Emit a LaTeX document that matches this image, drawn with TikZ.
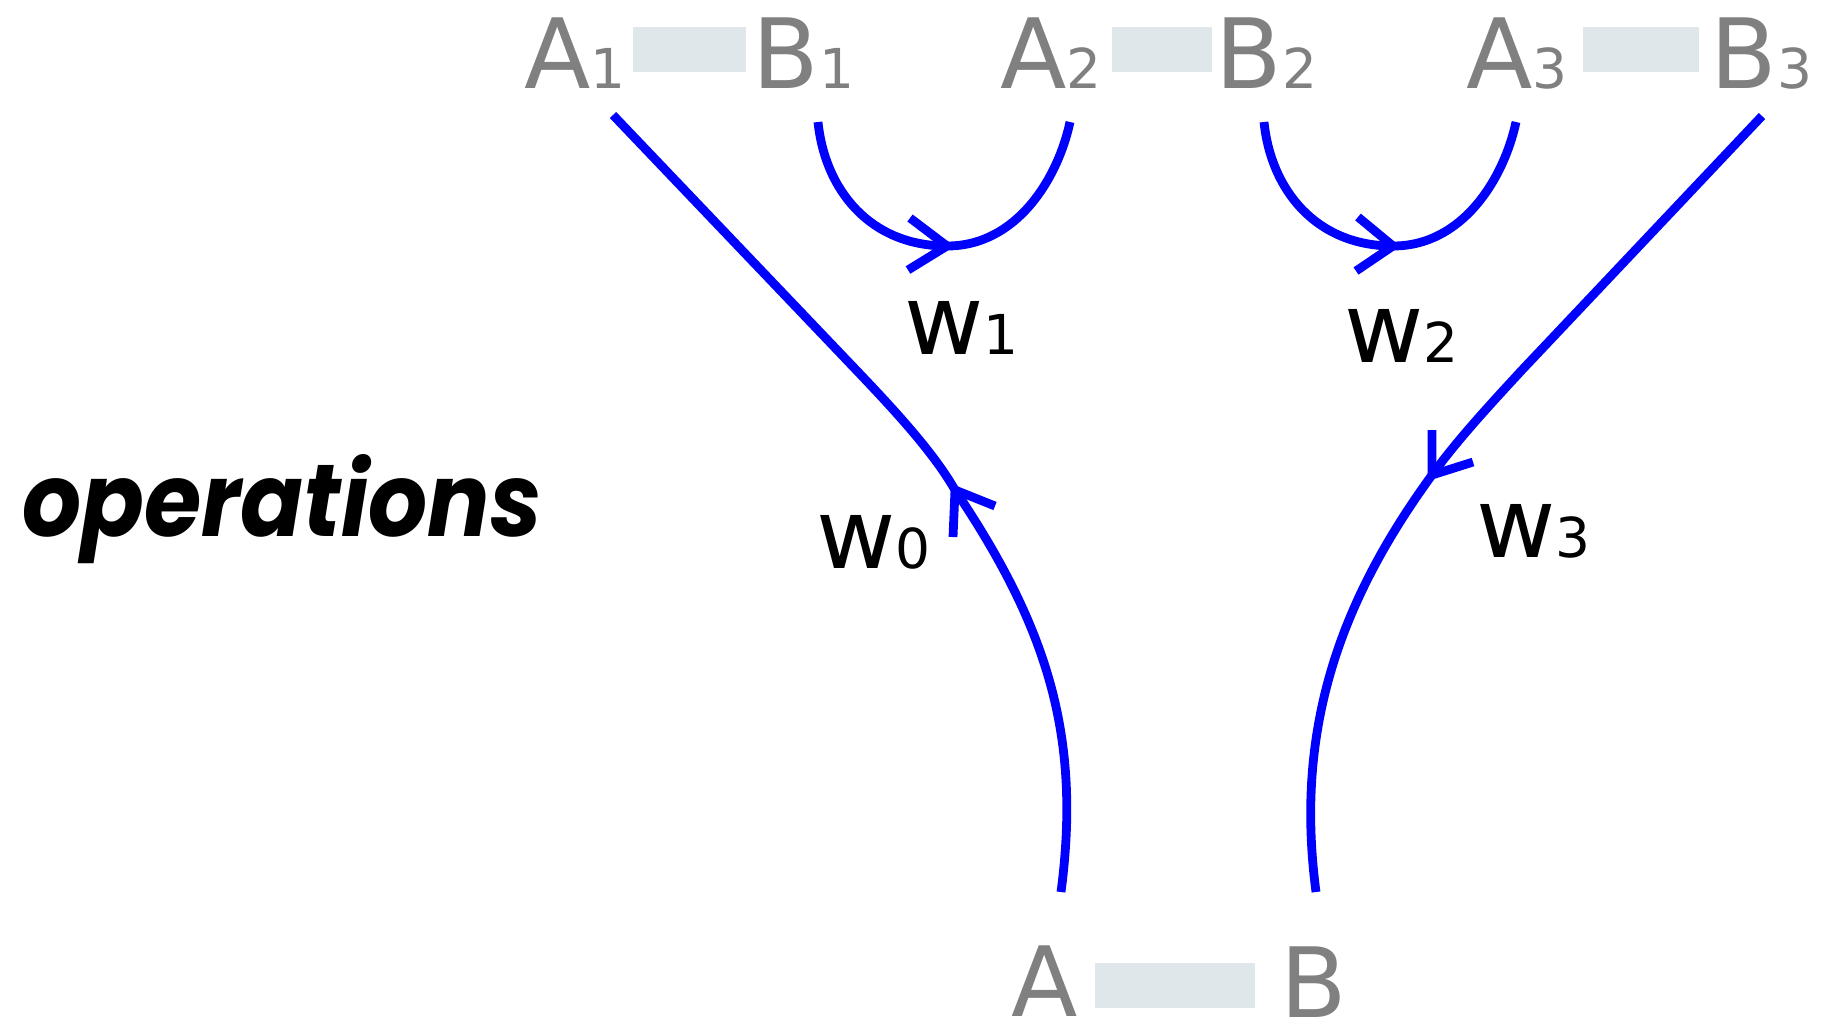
\documentclass[tikz,border=0pt]{standalone}
\usepackage{fontspec}
\usepackage{graphicx}
\setmainfont{DejaVu Sans}
\newfontfamily\opfont{Poppins}
\definecolor{labelgrey}{HTML}{808080}
\definecolor{barfill}{HTML}{E0E7EA}
\definecolor{linkblue}{HTML}{0000FF}
\newcommand{\subd}[1]{{\fontsize{27.5}{33}\selectfont #1}}
\begin{document}
\begin{tikzpicture}[x=0.5pt,y=-0.5pt,
  lbl/.style={inner sep=0pt, outer sep=0pt, anchor=base west, text=labelgrey, font=\fontsize{48.5}{58}\selectfont},
  wlbl/.style={inner sep=0pt, outer sep=0pt, anchor=base west, text=black, font=\fontsize{48.5}{58}\selectfont},
  edge/.style={draw=linkblue, line width=4.4pt},
  barb/.style={draw=linkblue, line width=4.4pt},
  bar/.style={fill=barfill}]
\useasboundingbox (0,0) rectangle (1821,1024);
% top row
\node[lbl] (A1) at (524,88) {A\subd{1}};
\fill[bar] (633,27) rectangle (746,72);
\node[lbl] (B1) at (752.5,88) {B\subd{1}};
\node[lbl] (A2) at (1000,88) {A\subd{2}};
\fill[bar] (1112,27) rectangle (1212,72);
\node[lbl] (B2) at (1215.5,88) {B\subd{2}};
\node[lbl] (A3) at (1466,88) {A\subd{3}};
\fill[bar] (1583,27) rectangle (1699,72);
\node[lbl] (B3) at (1710.5,88) {B\subd{3}};
% bottom row
\node[lbl] (A) at (1011,1016) {A};
\fill[bar] (1095,963) rectangle (1255,1008);
\node[lbl] (B) at (1280.5,1017) {B};
% labels
\node[wlbl] (w0) at (816,568) {w\subd{0}};
\node[wlbl] (w1) at (904,354) {w\subd{1}};
\node[wlbl] (w2) at (1344,362) {w\subd{2}};
\node[wlbl] (w3) at (1476,557) {w\subd{3}};
\node[inner sep=0pt, outer sep=0pt, anchor=base west] (ops) at (22,536) {\resizebox{260pt}{41pt}{\opfont\bfseries\itshape operations}};
% connector ends
\coordinate (a1e) at (613,115);
\coordinate (b1e) at (818,122);
\coordinate (a2e) at (1070,122);
\coordinate (b2e) at (1264,122);
\coordinate (a3e) at (1516,122);
\coordinate (b3e) at (1762,116);
\coordinate (ae) at (1061,892);
\coordinate (be) at (1316,892);
\coordinate (t0) at (955,490);
\coordinate (t1) at (947,246);
\coordinate (t2) at (1393,246);
\coordinate (t3) at (1432,475);
% connectors
\draw[edge] (ae) .. controls (1081,740) and (1050,631) .. (t0) .. controls (935,455) and (900,416) .. (860,374) -- (a1e);
\draw[edge] (b1e) .. controls (825,190) and (870,246) .. (t1) .. controls (1017,246) and (1058,178) .. (a2e);
\draw[edge] (b2e) .. controls (1271,190) and (1316,246) .. (t2) .. controls (1463,246) and (1504,178) .. (a3e);
\draw[edge] (b3e) -- (1522,370) .. controls (1485,410) and (1455,443) .. (t3) .. controls (1332,612) and (1296,740) .. (be);
% arrowheads
\draw[barb] ([shift={(-2,47)}]t0) -- (t0) -- ([shift={(40,16)}]t0);
\draw[barb] ([shift={(-37,-28)}]t1) -- (t1) -- ([shift={(-39,24)}]t1);
\draw[barb] ([shift={(-35,-29)}]t2) -- (t2) -- ([shift={(-37,25)}]t2);
\draw[barb] ([shift={(0,-45)}]t3) -- (t3) -- ([shift={(41,-13)}]t3);
\end{tikzpicture}
\end{document}
